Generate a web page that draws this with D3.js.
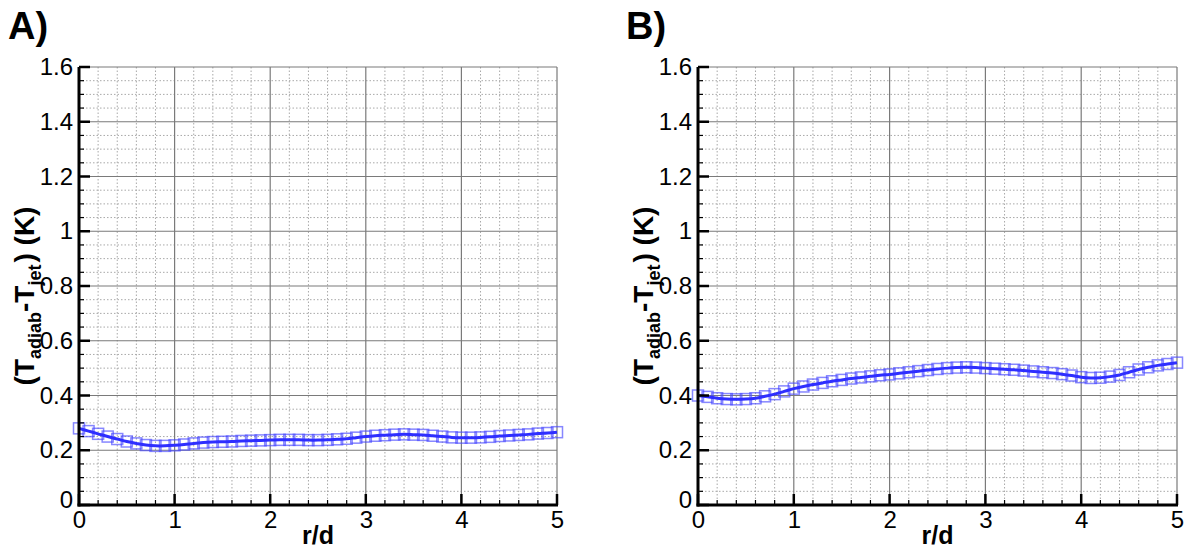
<!DOCTYPE html>
<html>
<head>
<meta charset="utf-8">
<script src="https://cdn.jsdelivr.net/npm/d3@7"></script>
<style>
  html, body { margin: 0; padding: 0; background: #fff; }
  svg { display: block; font-family: "Liberation Sans", Arial, sans-serif; }
</style>
</head>
<body>
<svg id="chart" width="1188" height="549"></svg>
<script>
// ---- data ----
const rValues = d3.range(0, 51).map(i => +(i * 0.1).toFixed(1));
const seriesA = [0.280,0.270,0.260,0.250,0.241,0.232,0.225,0.219,0.216,0.216,
                 0.218,0.221,0.225,0.228,0.230,0.231,0.232,0.234,0.235,0.236,
                 0.237,0.238,0.238,0.238,0.237,0.237,0.238,0.240,0.242,0.246,
                 0.250,0.253,0.255,0.257,0.258,0.257,0.256,0.253,0.250,0.247,
                 0.246,0.246,0.247,0.249,0.252,0.254,0.256,0.258,0.261,0.263,0.266];
const seriesB = [0.400,0.395,0.390,0.387,0.386,0.387,0.390,0.397,0.405,0.415,
                 0.425,0.433,0.440,0.446,0.452,0.457,0.462,0.466,0.470,0.474,
                 0.477,0.481,0.485,0.489,0.493,0.497,0.500,0.502,0.503,0.502,
                 0.500,0.498,0.496,0.494,0.491,0.488,0.485,0.482,0.478,0.473,
                 0.467,0.464,0.465,0.469,0.475,0.485,0.495,0.503,0.510,0.515,0.520];
const xTicks = [0, 1, 2, 3, 4, 5];
const yTicks = [0, 0.2, 0.4, 0.6, 0.8, 1, 1.2, 1.4, 1.6];
const panelLabels = ["A)", "B)"];
const xLabel = "r/d";

const svg = d3.select("#chart");
const panels = [
  { label: panelLabels[0], data: seriesA, left: 79, right: 557, top: 67, bottom: 505, labelX: 8 },
  { label: panelLabels[1], data: seriesB, left: 698, right: 1177, top: 67, bottom: 505, labelX: 626 }
];

panels.forEach(p => {
  const x = d3.scaleLinear().domain([0, 5]).range([p.left, p.right]);
  const y = d3.scaleLinear().domain([0, 1.6]).range([p.bottom, p.top]);
  const g = svg.append("g");

  const xMinor = d3.range(0, 26).map(i => i * 0.2).filter(v => Math.abs(v - Math.round(v)) > 1e-6);
  const yMinor = d3.range(0, 33).map(i => i * 0.05).filter(v => Math.abs(v / 0.2 - Math.round(v / 0.2)) > 1e-6);

  // minor grid (dotted)
  g.selectAll(".mx").data(xMinor).join("line")
    .attr("x1", d => x(d)).attr("x2", d => x(d))
    .attr("y1", p.top).attr("y2", p.bottom)
    .attr("stroke", "#a8a8a8").attr("stroke-width", 1).attr("stroke-dasharray", "1.5,2");
  g.selectAll(".my").data(yMinor).join("line")
    .attr("x1", p.left).attr("x2", p.right)
    .attr("y1", d => y(d)).attr("y2", d => y(d))
    .attr("stroke", "#a8a8a8").attr("stroke-width", 1).attr("stroke-dasharray", "1.5,2");

  // major grid
  g.selectAll(".gx").data(xTicks.slice(1)).join("line")
    .attr("x1", d => x(d)).attr("x2", d => x(d))
    .attr("y1", p.top).attr("y2", p.bottom)
    .attr("stroke", "#7a7a7a").attr("stroke-width", 1.2);
  g.selectAll(".gy").data(yTicks.slice(1)).join("line")
    .attr("x1", p.left).attr("x2", p.right)
    .attr("y1", d => y(d)).attr("y2", d => y(d))
    .attr("stroke", "#7a7a7a").attr("stroke-width", 1.2);

  // data
  const pts = rValues.map((r, i) => [r, p.data[i]]);
  g.selectAll(".mk").data(pts).join("rect")
    .attr("x", d => x(d[0]) - 5.5).attr("y", d => y(d[1]) - 5.5)
    .attr("width", 11).attr("height", 11)
    .attr("fill", "none").attr("stroke", "rgba(70,70,255,0.65)").attr("stroke-width", 1.5);
  g.append("path").datum(pts)
    .attr("d", d3.line().x(d => x(d[0])).y(d => y(d[1])).curve(d3.curveCatmullRom))
    .attr("fill", "none").attr("stroke", "#2e2eff").attr("stroke-width", 3);

  // axes
  const yAxis = d3.axisLeft(y).tickValues(yTicks).tickSize(0).tickPadding(6)
    .tickFormat(d => d3.format("~g")(d));
  const ya = g.append("g").attr("transform", `translate(${p.left},0)`).call(yAxis);
  ya.select(".domain").remove();
  ya.attr("font-size", 24).attr("font-family", null);
  ya.selectAll("text").style("font-size", "24px").attr("fill", "#000")
    .attr("dy", d => d === 0 ? "0.1em" : "0.32em");

  const xAxis = d3.axisBottom(x).tickValues(xTicks).tickSize(0).tickPadding(6)
    .tickFormat(d3.format("d"));
  const xa = g.append("g").attr("transform", `translate(0,${p.bottom})`).call(xAxis);
  xa.select(".domain").remove();
  xa.attr("font-size", 24).attr("font-family", null);
  xa.selectAll("text").style("font-size", "24px").attr("fill", "#000");

  // tick marks (inward)
  g.selectAll(".tyM").data(yTicks).join("line")
    .attr("x1", p.left).attr("x2", p.left + 11)
    .attr("y1", d => y(d)).attr("y2", d => y(d))
    .attr("stroke", "#000").attr("stroke-width", 2.5);
  g.selectAll(".tym").data(yMinor).join("line")
    .attr("x1", p.left).attr("x2", p.left + 5)
    .attr("y1", d => y(d)).attr("y2", d => y(d))
    .attr("stroke", "#000").attr("stroke-width", 1.2);
  g.selectAll(".txM").data(xTicks).join("line")
    .attr("x1", d => x(d)).attr("x2", d => x(d))
    .attr("y1", p.bottom).attr("y2", p.bottom - 11)
    .attr("stroke", "#000").attr("stroke-width", 2.5);
  g.selectAll(".txm").data(xMinor).join("line")
    .attr("x1", d => x(d)).attr("x2", d => x(d))
    .attr("y1", p.bottom).attr("y2", p.bottom - 5)
    .attr("stroke", "#000").attr("stroke-width", 1.2);

  // axis lines
  g.append("line").attr("x1", p.left).attr("x2", p.left)
    .attr("y1", p.top).attr("y2", p.bottom + 1.5)
    .attr("stroke", "#000").attr("stroke-width", 3);
  g.append("line").attr("x1", p.left - 1.5).attr("x2", p.right + 1)
    .attr("y1", p.bottom).attr("y2", p.bottom)
    .attr("stroke", "#000").attr("stroke-width", 3);

  // x label
  g.append("text").attr("x", (p.left + p.right) / 2).attr("y", 544)
    .attr("text-anchor", "middle").attr("font-size", 25).attr("font-weight", "bold")
    .text(xLabel);

  // y label
  const yl = g.append("text")
    .attr("transform", `translate(${p.left - 45},${(p.top + p.bottom) / 2 + 10}) rotate(-90)`)
    .attr("text-anchor", "middle").attr("font-size", 28).attr("font-weight", "bold");
  yl.append("tspan").text("(T");
  yl.append("tspan").attr("font-size", 18).attr("dy", 7).text("adiab");
  yl.append("tspan").attr("dy", -7).text("-T");
  yl.append("tspan").attr("font-size", 18).attr("dy", 7).text("jet");
  yl.append("tspan").attr("dy", -7).attr("dx", 2).text(") (K)");

  // panel label
  g.append("text").attr("x", p.labelX).attr("y", 39)
    .attr("font-size", 38).attr("font-weight", "bold").text(p.label);
});
</script>
</body>
</html>
